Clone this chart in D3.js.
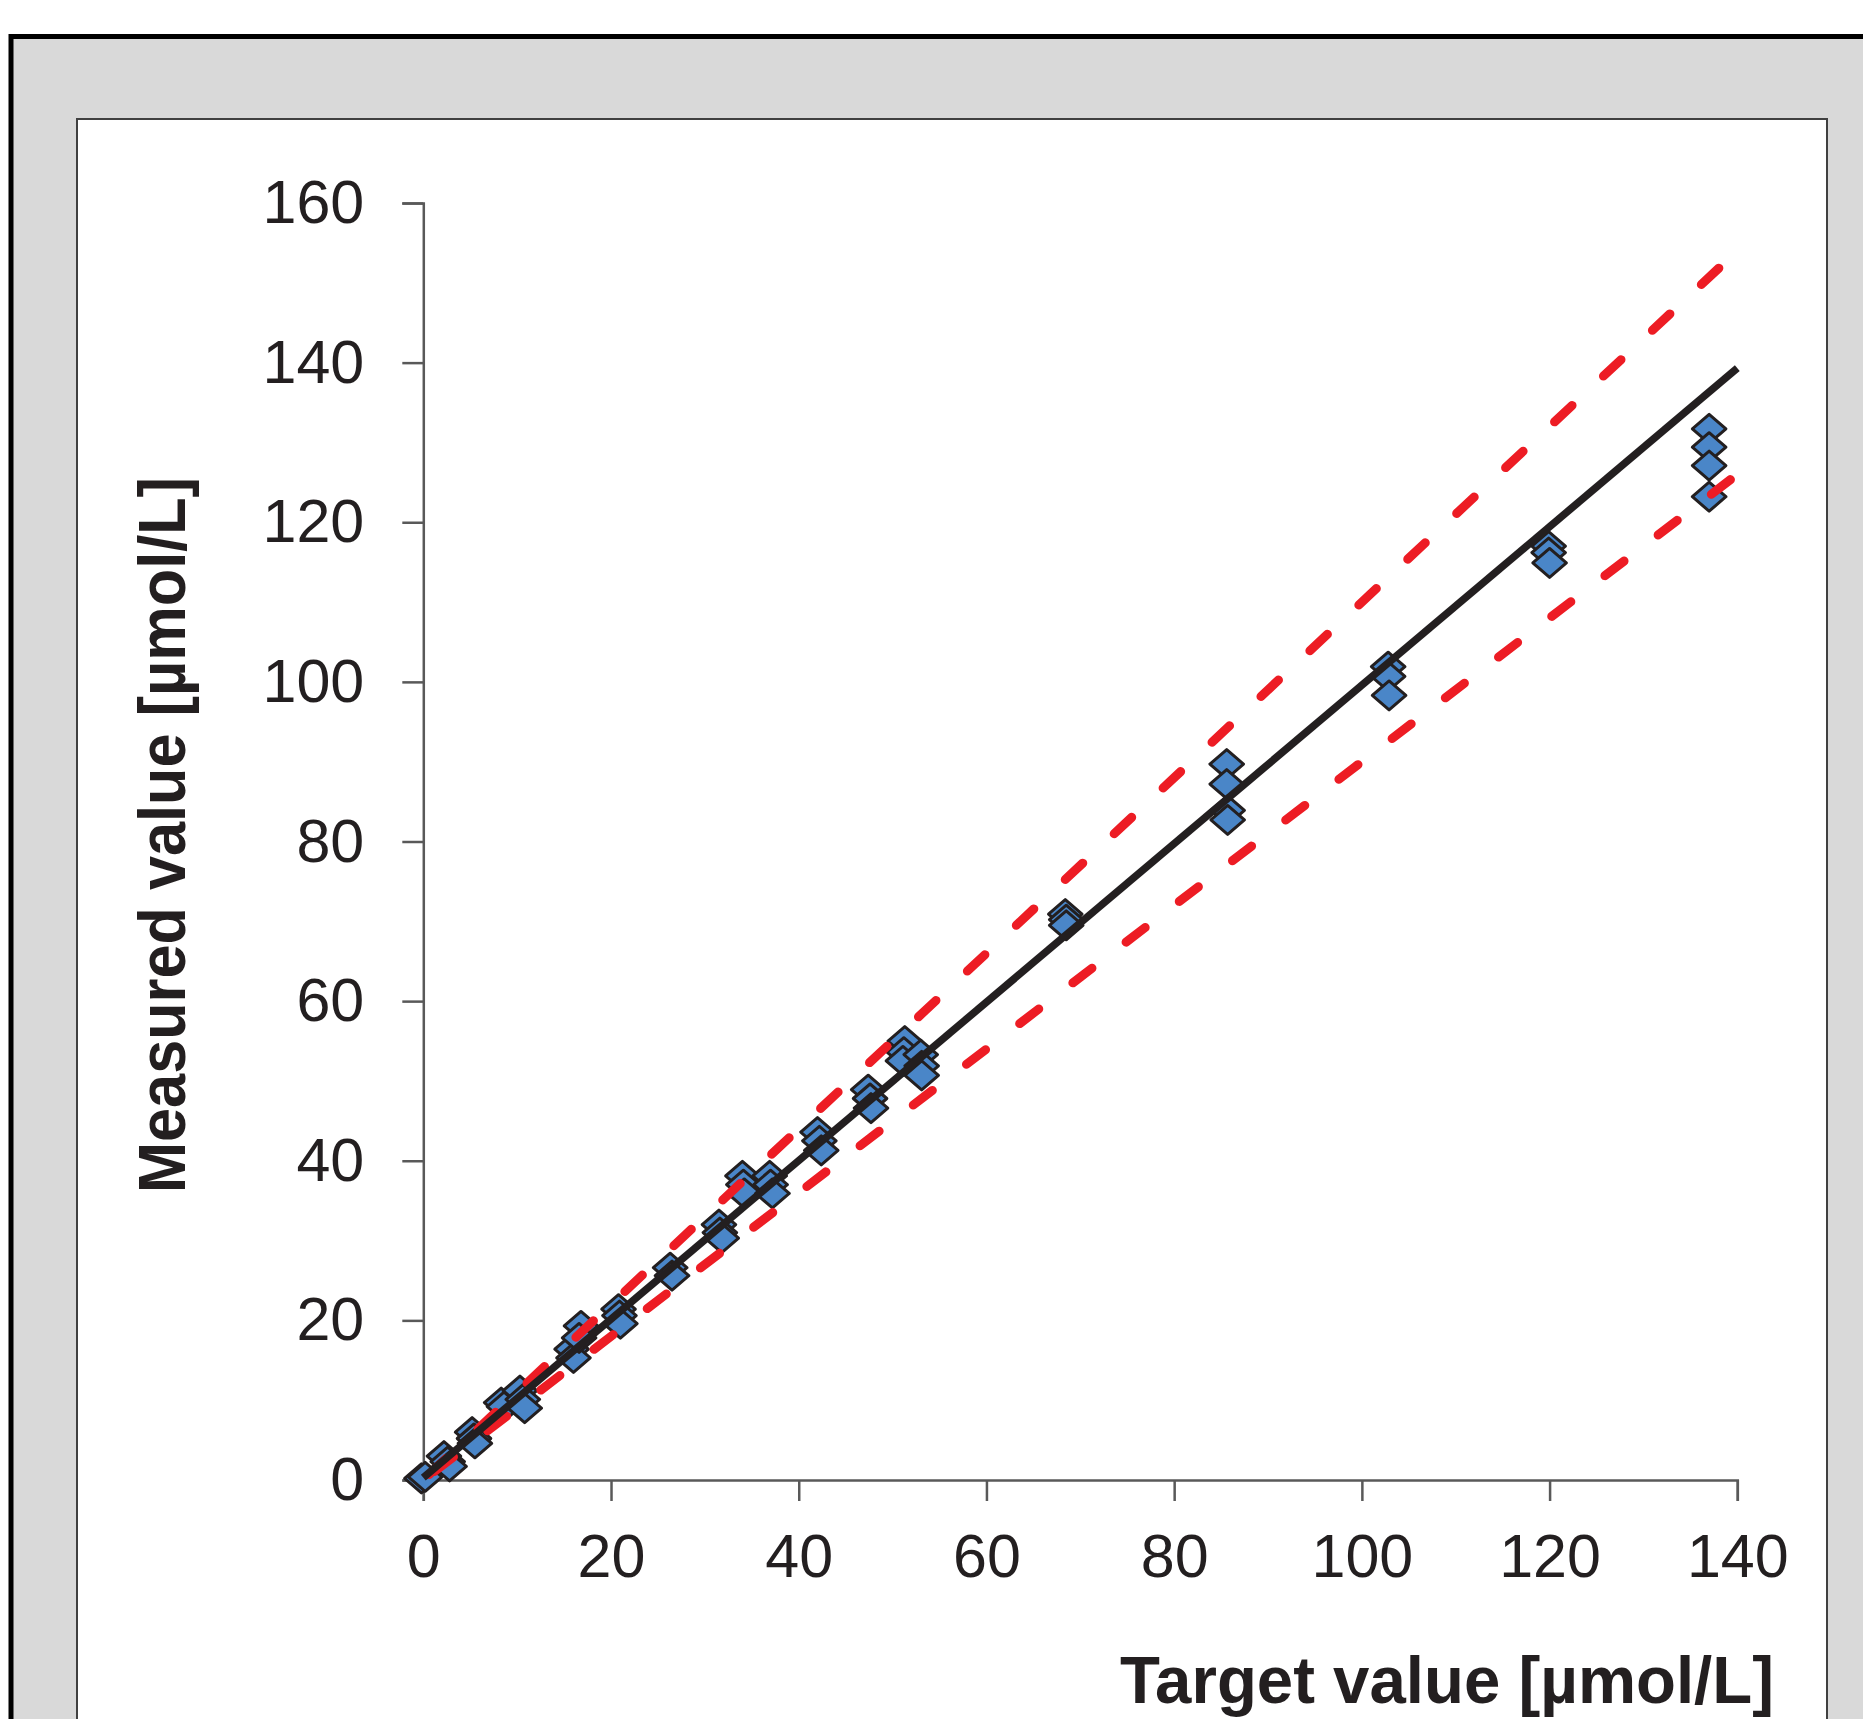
<!DOCTYPE html>
<html>
<head>
<meta charset="utf-8">
<script src="https://cdn.jsdelivr.net/npm/d3@7"></script>
<style>
  html, body { margin: 0; padding: 0; background: #ffffff; overflow: hidden; }
  svg { display: block; }
</style>
</head>
<body>
<script>
// ---------------- DATA ----------------
const targetValues = [
  -0.2, 0.2,
  2.2, 2.6, 2.8,
  5.2, 5.4, 5.5,
  8.3, 8.6,
  10.3, 10.6, 10.8,
  15.8, 16.0, 16.8, 16.6,
  20.8, 20.9, 21.0,
  26.3, 26.5,
  31.5, 31.6, 31.8,
  34.0, 34.1, 34.2,
  36.9, 37.0, 37.2,
  42.0, 42.2, 42.4,
  47.4, 47.6, 47.7,
  51.3, 51.2, 51.1,
  53.0, 53.1, 53.1,
  68.4, 68.5, 68.5,
  85.6, 85.6, 85.7, 85.7,
  102.8, 102.8, 102.9,
  119.9, 119.9, 120.0,
  137.0, 137.0, 137.0, 137.0
];
const measuredValues = [
  0.2, 0.4,
  3.0, 2.3, 1.7,
  6.0, 5.2, 4.6,
  9.7, 9.2,
  11.2, 10.1, 9.0,
  16.4, 15.3, 19.3, 17.8,
  21.4, 20.6, 19.6,
  26.6, 25.6,
  32.0, 31.0, 30.3,
  38.1, 37.0, 35.9,
  38.1, 37.0, 35.9,
  43.6, 42.5, 41.3,
  48.9, 47.8, 46.6,
  55.0, 53.6, 52.5,
  53.3, 51.9, 50.7,
  70.9, 70.2, 69.5,
  89.7, 87.2, 83.9, 82.7,
  101.9, 100.7, 98.3,
  117.0, 116.2, 114.9,
  131.7, 129.4, 127.1, 123.2
];
// regression line and ±10 % limit lines (end points)
const lineX  = [0, 140];
const fitY   = [0.3, 139.3];
const upperY = [0, 154];
const lowerY = [0, 126];

const xTicks = [0, 20, 40, 60, 80, 100, 120, 140];
const yTicks = [0, 20, 40, 60, 80, 100, 120, 140, 160];

const xTitle = "Target value [µmol/L]";
const yTitle = "Measured value [µmol/L]";

// ---------------- DRAW ----------------
const W = 1863, H = 1719;
const svg = d3.select("body").append("svg").attr("width", W).attr("height", H);

// outer gray frame
svg.append("rect")
  .attr("x", 11).attr("y", 36.5).attr("width", 2000).attr("height", 2000)
  .attr("fill", "#d9d9d9").attr("stroke", "#000").attr("stroke-width", 5);

// inner white panel
svg.append("rect")
  .attr("x", 77).attr("y", 119).attr("width", 1750).attr("height", 1800)
  .attr("fill", "#ffffff").attr("stroke", "#404040").attr("stroke-width", 2);

const x = d3.scaleLinear().domain([0, 140]).range([423.3, 1737.3]);
const y = d3.scaleLinear().domain([0, 160]).range([1480, 203]);

const fontFam = "'Liberation Sans', Arial, Helvetica, sans-serif";
const textCol = "#231f20";
const axisCol = "#595959";

// axes
const gx = svg.append("g").attr("transform", `translate(0,${y(0)})`)
  .call(d3.axisBottom(x).tickValues(xTicks).tickSize(21).tickPadding(33).tickFormat(d3.format("d")));
const gy = svg.append("g").attr("transform", `translate(${x(0)},0)`)
  .call(d3.axisLeft(y).tickValues(yTicks).tickSize(21).tickPadding(38).tickFormat(d3.format("d")));
[gx, gy].forEach(g => {
  g.select(".domain").attr("stroke", axisCol).attr("stroke-width", 2.5);
  g.selectAll(".tick line").attr("stroke", axisCol).attr("stroke-width", 2.5);
  g.selectAll(".tick text").attr("font-family", fontFam).attr("font-size", 61).attr("fill", textCol);
});

// points (diamonds)
const diamond = {
  draw(ctx, size) {
    const hw = 16.8, hh = 14.5;
    ctx.moveTo(0, -hh); ctx.lineTo(hw, 0); ctx.lineTo(0, hh); ctx.lineTo(-hw, 0); ctx.closePath();
  }
};
const pts = targetValues.map((t, i) => ({ t, m: measuredValues[i] }));
svg.append("g").selectAll("path").data(pts).join("path")
  .attr("d", d3.symbol().type(diamond).size(1))
  .attr("transform", d => `translate(${x(d.t)},${y(d.m)})`)
  .attr("fill", "#4a86c8").attr("stroke", "#231f20").attr("stroke-width", 3)
  .attr("stroke-linejoin", "round");

// lines
const line = d3.line().x(d => x(d[0])).y(d => y(d[1]));
const mk = ys => lineX.map((v, i) => [v, ys[i]]);

svg.append("path").attr("d", line(mk(upperY)))
  .attr("fill", "none").attr("stroke", "#ed1c24").attr("stroke-width", 9)
  .attr("stroke-linecap", "round").attr("stroke-dasharray", "24 43").attr("stroke-dashoffset", -8);
svg.append("path").attr("d", line(mk(lowerY)))
  .attr("fill", "none").attr("stroke", "#ed1c24").attr("stroke-width", 9)
  .attr("stroke-linecap", "round").attr("stroke-dasharray", "24 43").attr("stroke-dashoffset", -14);
svg.append("path").attr("d", line(mk(fitY)))
  .attr("fill", "none").attr("stroke", "#231f20").attr("stroke-width", 7.5)
  .attr("stroke-linecap", "butt");

// titles
svg.append("text")
  .attr("x", 1774).attr("y", 1703)
  .attr("text-anchor", "end")
  .attr("font-family", fontFam).attr("font-weight", "bold").attr("font-size", 66)
  .attr("fill", textCol)
  .attr("textLength", 654).attr("lengthAdjust", "spacingAndGlyphs")
  .text(xTitle);

svg.append("text")
  .attr("transform", "translate(185,1193) rotate(-90)")
  .attr("x", 0).attr("y", 0)
  .attr("text-anchor", "start")
  .attr("font-family", fontFam).attr("font-weight", "bold").attr("font-size", 66)
  .attr("fill", textCol)
  .attr("textLength", 716).attr("lengthAdjust", "spacingAndGlyphs")
  .text(yTitle);
</script>
</body>
</html>
